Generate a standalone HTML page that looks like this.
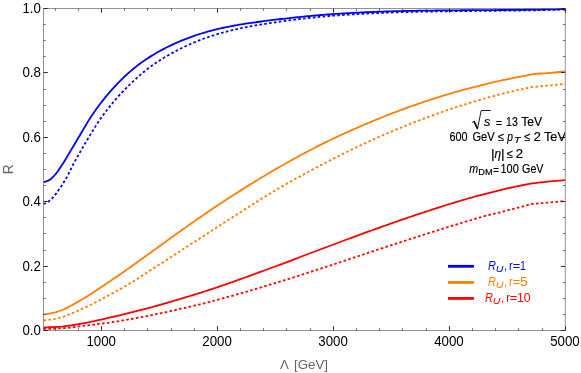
<!DOCTYPE html>
<html><head><meta charset="utf-8"><title>plot</title>
<style>
html,body{margin:0;padding:0;background:#fff;}
body{width:581px;height:373px;overflow:hidden;}
svg{display:block;will-change:transform;}
text{font-family:"Liberation Sans",sans-serif;}
</style></head><body>
<svg width="581" height="373" viewBox="0 0 581 373">
<defs><clipPath id="fr"><rect x="43.5" y="8.5" width="521.40" height="322.00"/></clipPath></defs>
<rect x="0" y="0" width="581" height="373" fill="#ffffff"/>
<g fill="none" stroke-width="1.8" stroke-linejoin="round">
<path d="M43.50,182.12 L45.50,181.68 L47.50,180.97 L49.50,179.91 L51.50,178.46 L53.49,176.48 L55.49,174.25 L57.49,171.72 L59.49,168.84 L61.49,165.83 L63.49,162.70 L65.49,159.43 L67.49,156.09 L69.49,152.73 L71.48,149.39 L73.48,146.05 L75.48,142.69 L77.48,139.32 L79.48,135.94 L81.48,132.54 L83.48,129.13 L85.48,125.74 L87.47,122.40 L89.47,119.15 L91.47,116.06 L93.47,113.18 L95.47,110.34 L97.47,107.54 L99.47,104.82 L101.47,102.17 L103.47,99.60 L105.46,97.11 L107.46,94.70 L109.46,92.38 L111.46,90.14 L113.46,87.96 L115.46,85.83 L117.46,83.73 L119.46,81.66 L121.46,79.64 L123.45,77.67 L125.45,75.77 L127.45,73.92 L129.45,72.13 L131.45,70.39 L133.45,68.71 L135.45,67.09 L137.45,65.51 L139.44,64.00 L141.44,62.53 L143.44,61.11 L145.44,59.74 L147.44,58.41 L149.44,57.12 L151.44,55.87 L153.44,54.66 L155.44,53.49 L157.43,52.34 L159.43,51.23 L161.43,50.15 L163.43,49.09 L165.43,48.06 L167.43,47.05 L169.43,46.07 L171.43,45.11 L173.43,44.18 L175.42,43.27 L177.42,42.38 L179.42,41.52 L181.42,40.68 L183.42,39.87 L185.42,39.07 L187.42,38.30 L189.42,37.55 L191.41,36.82 L193.41,36.12 L195.41,35.43 L197.41,34.76 L199.41,34.12 L201.41,33.49 L203.41,32.88 L205.41,32.29 L207.41,31.72 L209.40,31.17 L211.40,30.63 L213.40,30.11 L215.40,29.61 L217.40,29.12 L219.40,28.65 L221.40,28.19 L223.40,27.75 L225.40,27.32 L227.39,26.91 L229.39,26.51 L231.39,26.12 L233.39,25.75 L235.39,25.38 L237.39,25.03 L239.39,24.69 L241.39,24.36 L243.39,24.03 L245.38,23.72 L247.38,23.42 L249.38,23.12 L251.38,22.83 L253.38,22.55 L255.38,22.28 L257.38,22.01 L259.38,21.75 L261.37,21.49 L263.37,21.23 L265.37,20.98 L267.37,20.72 L269.37,20.47 L271.37,20.22 L273.37,19.97 L275.37,19.72 L277.37,19.48 L279.36,19.24 L281.36,19.01 L283.36,18.78 L285.36,18.55 L287.36,18.33 L289.36,18.11 L291.36,17.89 L293.36,17.68 L295.36,17.46 L297.35,17.25 L299.35,17.04 L301.35,16.84 L303.35,16.64 L305.35,16.44 L307.35,16.24 L309.35,16.05 L311.35,15.86 L313.34,15.68 L315.34,15.50 L317.34,15.32 L319.34,15.15 L321.34,14.99 L323.34,14.82 L325.34,14.67 L327.34,14.52 L329.34,14.37 L331.33,14.23 L333.33,14.09 L335.33,13.95 L337.33,13.82 L339.33,13.69 L341.33,13.56 L343.33,13.44 L345.33,13.32 L347.33,13.20 L349.32,13.08 L351.32,12.97 L353.32,12.86 L355.32,12.76 L357.32,12.65 L359.32,12.55 L361.32,12.45 L363.32,12.36 L365.31,12.26 L367.31,12.17 L369.31,12.09 L371.31,12.00 L373.31,11.92 L375.31,11.84 L377.31,11.76 L379.31,11.69 L381.31,11.62 L383.30,11.55 L385.30,11.48 L387.30,11.42 L389.30,11.36 L391.30,11.30 L393.30,11.25 L395.30,11.20 L397.30,11.15 L399.30,11.10 L401.29,11.06 L403.29,11.01 L405.29,10.97 L407.29,10.93 L409.29,10.89 L411.29,10.86 L413.29,10.82 L415.29,10.79 L417.29,10.75 L419.28,10.72 L421.28,10.69 L423.28,10.66 L425.28,10.63 L427.28,10.61 L429.28,10.58 L431.28,10.56 L433.28,10.53 L435.27,10.51 L437.27,10.49 L439.27,10.46 L441.27,10.44 L443.27,10.42 L445.27,10.40 L447.27,10.39 L449.27,10.37 L451.27,10.35 L453.26,10.33 L455.26,10.32 L457.26,10.30 L459.26,10.29 L461.26,10.27 L463.26,10.26 L465.26,10.24 L467.26,10.23 L469.26,10.22 L471.25,10.20 L473.25,10.19 L475.25,10.18 L477.25,10.16 L479.25,10.15 L481.25,10.14 L483.25,10.12 L485.25,10.11 L487.24,10.10 L489.24,10.08 L491.24,10.07 L493.24,10.06 L495.24,10.04 L497.24,10.03 L499.24,10.01 L501.24,10.00 L503.24,9.98 L505.23,9.96 L507.23,9.95 L509.23,9.93 L511.23,9.91 L513.23,9.89 L515.23,9.87 L517.23,9.85 L519.23,9.83 L521.23,9.81 L523.22,9.79 L525.22,9.77 L527.22,9.74 L529.22,9.72 L531.22,9.69 L533.22,9.66 L535.22,9.63 L537.22,9.60 L539.21,9.57 L541.21,9.54 L543.21,9.51 L545.21,9.47 L547.21,9.44 L549.21,9.40 L551.21,9.36 L553.21,9.32 L555.21,9.28 L557.20,9.23 L559.20,9.19 L561.20,9.14 L563.20,9.09 L565.20,9.04" stroke="#0000ff"/>
<path d="M43.50,203.92 L45.50,203.23 L47.50,202.23 L49.50,200.84 L51.50,199.08 L53.49,196.88 L55.49,194.40 L57.49,191.63 L59.49,188.81 L61.49,185.90 L63.49,182.82 L65.49,179.52 L67.49,175.80 L69.49,171.88 L71.48,167.94 L73.48,163.97 L75.48,160.26 L77.48,156.69 L79.48,153.16 L81.48,149.67 L83.48,146.22 L85.48,142.82 L87.47,139.47 L89.47,136.17 L91.47,132.90 L93.47,129.62 L95.47,126.37 L97.47,123.19 L99.47,120.12 L101.47,117.25 L103.47,114.62 L105.46,112.07 L107.46,109.47 L109.46,106.91 L111.46,104.42 L113.46,101.98 L115.46,99.62 L117.46,97.32 L119.46,95.10 L121.46,92.96 L123.45,90.89 L125.45,88.87 L127.45,86.90 L129.45,84.95 L131.45,83.03 L133.45,81.13 L135.45,79.26 L137.45,77.43 L139.44,75.64 L141.44,73.90 L143.44,72.21 L145.44,70.57 L147.44,68.99 L149.44,67.48 L151.44,66.02 L153.44,64.61 L155.44,63.23 L157.43,61.90 L159.43,60.60 L161.43,59.34 L163.43,58.10 L165.43,56.90 L167.43,55.72 L169.43,54.57 L171.43,53.45 L173.43,52.35 L175.42,51.28 L177.42,50.23 L179.42,49.21 L181.42,48.21 L183.42,47.24 L185.42,46.29 L187.42,45.36 L189.42,44.46 L191.41,43.58 L193.41,42.72 L195.41,41.89 L197.41,41.08 L199.41,40.29 L201.41,39.52 L203.41,38.78 L205.41,38.06 L207.41,37.35 L209.40,36.67 L211.40,36.01 L213.40,35.37 L215.40,34.75 L217.40,34.15 L219.40,33.57 L221.40,33.00 L223.40,32.45 L225.40,31.91 L227.39,31.40 L229.39,30.89 L231.39,30.40 L233.39,29.93 L235.39,29.47 L237.39,29.02 L239.39,28.59 L241.39,28.16 L243.39,27.75 L245.38,27.35 L247.38,26.96 L249.38,26.58 L251.38,26.20 L253.38,25.84 L255.38,25.48 L257.38,25.14 L259.38,24.80 L261.37,24.46 L263.37,24.13 L265.37,23.81 L267.37,23.49 L269.37,23.18 L271.37,22.87 L273.37,22.57 L275.37,22.27 L277.37,21.97 L279.36,21.68 L281.36,21.40 L283.36,21.12 L285.36,20.84 L287.36,20.57 L289.36,20.31 L291.36,20.04 L293.36,19.79 L295.36,19.54 L297.35,19.29 L299.35,19.05 L301.35,18.81 L303.35,18.58 L305.35,18.35 L307.35,18.13 L309.35,17.92 L311.35,17.70 L313.34,17.50 L315.34,17.29 L317.34,17.10 L319.34,16.91 L321.34,16.72 L323.34,16.54 L325.34,16.36 L327.34,16.19 L329.34,16.02 L331.33,15.86 L333.33,15.70 L335.33,15.55 L337.33,15.40 L339.33,15.25 L341.33,15.11 L343.33,14.97 L345.33,14.83 L347.33,14.70 L349.32,14.57 L351.32,14.44 L353.32,14.32 L355.32,14.20 L357.32,14.08 L359.32,13.97 L361.32,13.86 L363.32,13.75 L365.31,13.65 L367.31,13.54 L369.31,13.44 L371.31,13.35 L373.31,13.25 L375.31,13.16 L377.31,13.07 L379.31,12.99 L381.31,12.90 L383.30,12.82 L385.30,12.75 L387.30,12.67 L389.30,12.60 L391.30,12.52 L393.30,12.45 L395.30,12.39 L397.30,12.32 L399.30,12.26 L401.29,12.20 L403.29,12.14 L405.29,12.08 L407.29,12.03 L409.29,11.98 L411.29,11.93 L413.29,11.88 L415.29,11.83 L417.29,11.78 L419.28,11.74 L421.28,11.69 L423.28,11.65 L425.28,11.61 L427.28,11.57 L429.28,11.54 L431.28,11.50 L433.28,11.47 L435.27,11.43 L437.27,11.40 L439.27,11.37 L441.27,11.34 L443.27,11.31 L445.27,11.28 L447.27,11.26 L449.27,11.23 L451.27,11.20 L453.26,11.18 L455.26,11.16 L457.26,11.13 L459.26,11.11 L461.26,11.09 L463.26,11.07 L465.26,11.05 L467.26,11.02 L469.26,11.00 L471.25,10.98 L473.25,10.96 L475.25,10.95 L477.25,10.93 L479.25,10.91 L481.25,10.89 L483.25,10.87 L485.25,10.85 L487.24,10.83 L489.24,10.81 L491.24,10.79 L493.24,10.77 L495.24,10.75 L497.24,10.73 L499.24,10.71 L501.24,10.69 L503.24,10.67 L505.23,10.65 L507.23,10.63 L509.23,10.61 L511.23,10.58 L513.23,10.56 L515.23,10.53 L517.23,10.51 L519.23,10.48 L521.23,10.45 L523.22,10.43 L525.22,10.40 L527.22,10.37 L529.22,10.33 L531.22,10.30 L533.22,10.27 L535.22,10.23 L537.22,10.20 L539.21,10.16 L541.21,10.12 L543.21,10.08 L545.21,10.04 L547.21,10.00 L549.21,9.95 L551.21,9.90 L553.21,9.86 L555.21,9.81 L557.20,9.75 L559.20,9.70 L561.20,9.64 L563.20,9.59 L565.20,9.53" stroke="#0000ff" stroke-dasharray="2.6 2.3"/>
<path d="M43.50,314.55 L45.49,314.22 L47.48,313.88 L49.48,313.51 L51.47,313.16 L53.46,312.76 L55.45,312.25 L57.45,311.65 L59.44,310.99 L61.43,310.26 L63.42,309.48 L65.41,308.58 L67.41,307.59 L69.40,306.56 L71.39,305.50 L73.38,304.41 L75.38,303.28 L77.37,302.13 L79.36,300.98 L81.35,299.83 L83.34,298.67 L85.34,297.47 L87.33,296.23 L89.32,294.96 L91.31,293.68 L93.31,292.38 L95.30,291.07 L97.29,289.76 L99.28,288.43 L101.28,287.10 L103.27,285.77 L105.26,284.43 L107.25,283.09 L109.24,281.74 L111.24,280.39 L113.23,279.03 L115.22,277.67 L117.21,276.30 L119.21,274.93 L121.20,273.55 L123.19,272.17 L125.18,270.78 L127.17,269.38 L129.17,267.98 L131.16,266.57 L133.15,265.15 L135.14,263.74 L137.14,262.31 L139.13,260.88 L141.12,259.45 L143.11,258.02 L145.10,256.58 L147.10,255.14 L149.09,253.70 L151.08,252.26 L153.07,250.81 L155.07,249.37 L157.06,247.93 L159.05,246.48 L161.04,245.04 L163.03,243.60 L165.03,242.15 L167.02,240.72 L169.01,239.28 L171.00,237.84 L173.00,236.41 L174.99,234.98 L176.98,233.55 L178.97,232.13 L180.96,230.71 L182.96,229.29 L184.95,227.87 L186.94,226.47 L188.93,225.06 L190.93,223.66 L192.92,222.27 L194.91,220.88 L196.90,219.49 L198.90,218.11 L200.89,216.74 L202.88,215.37 L204.87,214.00 L206.86,212.64 L208.86,211.29 L210.85,209.94 L212.84,208.60 L214.83,207.26 L216.83,205.93 L218.82,204.60 L220.81,203.28 L222.80,201.97 L224.79,200.66 L226.79,199.35 L228.78,198.05 L230.77,196.76 L232.76,195.47 L234.76,194.19 L236.75,192.91 L238.74,191.64 L240.73,190.38 L242.72,189.12 L244.72,187.86 L246.71,186.62 L248.70,185.37 L250.69,184.14 L252.69,182.91 L254.68,181.68 L256.67,180.47 L258.66,179.25 L260.65,178.05 L262.65,176.85 L264.64,175.66 L266.63,174.47 L268.62,173.29 L270.62,172.11 L272.61,170.95 L274.60,169.78 L276.59,168.63 L278.58,167.48 L280.58,166.34 L282.57,165.20 L284.56,164.07 L286.55,162.95 L288.55,161.84 L290.54,160.73 L292.53,159.62 L294.52,158.53 L296.52,157.44 L298.51,156.36 L300.50,155.28 L302.49,154.21 L304.48,153.15 L306.48,152.09 L308.47,151.04 L310.46,150.00 L312.45,148.97 L314.45,147.94 L316.44,146.92 L318.43,145.90 L320.42,144.90 L322.41,143.90 L324.41,142.90 L326.40,141.92 L328.39,140.95 L330.38,139.99 L332.38,139.03 L334.37,138.08 L336.36,137.15 L338.35,136.22 L340.34,135.29 L342.34,134.38 L344.33,133.47 L346.32,132.56 L348.31,131.67 L350.31,130.77 L352.30,129.89 L354.29,129.01 L356.28,128.13 L358.27,127.26 L360.27,126.39 L362.26,125.53 L364.25,124.68 L366.24,123.83 L368.24,122.99 L370.23,122.15 L372.22,121.32 L374.21,120.50 L376.20,119.68 L378.20,118.87 L380.19,118.06 L382.18,117.26 L384.17,116.47 L386.17,115.69 L388.16,114.91 L390.15,114.13 L392.14,113.36 L394.14,112.60 L396.13,111.84 L398.12,111.09 L400.11,110.35 L402.10,109.61 L404.10,108.88 L406.09,108.15 L408.08,107.43 L410.07,106.72 L412.07,106.01 L414.06,105.30 L416.05,104.60 L418.04,103.91 L420.03,103.23 L422.03,102.54 L424.02,101.87 L426.01,101.20 L428.00,100.54 L430.00,99.88 L431.99,99.23 L433.98,98.59 L435.97,97.95 L437.96,97.32 L439.96,96.69 L441.95,96.07 L443.94,95.46 L445.93,94.86 L447.93,94.26 L449.92,93.66 L451.91,93.08 L453.90,92.49 L455.89,91.92 L457.89,91.35 L459.88,90.79 L461.87,90.23 L463.86,89.68 L465.86,89.14 L467.85,88.60 L469.84,88.07 L471.83,87.55 L473.82,87.03 L475.82,86.52 L477.81,86.01 L479.80,85.51 L481.79,85.02 L483.79,84.53 L485.78,84.05 L487.77,83.57 L489.76,83.11 L491.76,82.64 L493.75,82.19 L495.74,81.74 L497.73,81.29 L499.72,80.86 L501.72,80.42 L503.71,80.00 L505.70,79.58 L507.69,79.17 L509.69,78.76 L511.68,78.36 L513.67,77.96 L515.66,77.57 L517.65,77.18 L519.65,76.81 L521.64,76.43 L523.63,76.07 L525.62,75.70 L527.62,75.25 L529.61,74.76 L531.60,74.30 L534.65,74.02 L537.71,73.76 L540.76,73.52 L543.82,73.28 L546.87,73.04 L549.93,72.79 L552.98,72.53 L556.04,72.27 L559.09,72.02 L562.15,71.77 L565.20,71.52" stroke="#ff7f00"/>
<path d="M43.50,320.23 L45.49,320.09 L47.48,319.94 L49.48,319.72 L51.47,319.44 L53.46,319.10 L55.45,318.71 L57.45,318.29 L59.44,317.81 L61.43,317.28 L63.42,316.66 L65.41,315.96 L67.41,315.19 L69.40,314.40 L71.39,313.57 L73.38,312.71 L75.38,311.83 L77.37,310.92 L79.36,310.02 L81.35,309.14 L83.34,308.24 L85.34,307.33 L87.33,306.39 L89.32,305.42 L91.31,304.44 L93.31,303.44 L95.30,302.44 L97.29,301.43 L99.28,300.40 L101.28,299.37 L103.27,298.32 L105.26,297.26 L107.25,296.19 L109.24,295.11 L111.24,294.03 L113.23,292.93 L115.22,291.83 L117.21,290.72 L119.21,289.60 L121.20,288.47 L123.19,287.33 L125.18,286.18 L127.17,285.02 L129.17,283.84 L131.16,282.64 L133.15,281.41 L135.14,280.16 L137.14,278.89 L139.13,277.60 L141.12,276.31 L143.11,275.02 L145.10,273.73 L147.10,272.43 L149.09,271.15 L151.08,269.88 L153.07,268.61 L155.07,267.33 L157.06,266.06 L159.05,264.78 L161.04,263.50 L163.03,262.21 L165.03,260.93 L167.02,259.64 L169.01,258.35 L171.00,257.06 L173.00,255.77 L174.99,254.48 L176.98,253.19 L178.97,251.90 L180.96,250.61 L182.96,249.32 L184.95,248.02 L186.94,246.73 L188.93,245.44 L190.93,244.15 L192.92,242.85 L194.91,241.56 L196.90,240.27 L198.90,238.98 L200.89,237.68 L202.88,236.39 L204.87,235.10 L206.86,233.81 L208.86,232.52 L210.85,231.23 L212.84,229.94 L214.83,228.66 L216.83,227.37 L218.82,226.08 L220.81,224.80 L222.80,223.51 L224.79,222.23 L226.79,220.95 L228.78,219.67 L230.77,218.39 L232.76,217.12 L234.76,215.84 L236.75,214.57 L238.74,213.30 L240.73,212.03 L242.72,210.76 L244.72,209.50 L246.71,208.23 L248.70,206.96 L250.69,205.69 L252.69,204.42 L254.68,203.15 L256.67,201.88 L258.66,200.62 L260.65,199.35 L262.65,198.10 L264.64,196.85 L266.63,195.62 L268.62,194.39 L270.62,193.17 L272.61,191.97 L274.60,190.78 L276.59,189.61 L278.58,188.44 L280.58,187.28 L282.57,186.13 L284.56,184.99 L286.55,183.85 L288.55,182.73 L290.54,181.60 L292.53,180.49 L294.52,179.38 L296.52,178.28 L298.51,177.18 L300.50,176.09 L302.49,175.01 L304.48,173.93 L306.48,172.85 L308.47,171.78 L310.46,170.71 L312.45,169.64 L314.45,168.58 L316.44,167.52 L318.43,166.46 L320.42,165.41 L322.41,164.37 L324.41,163.32 L326.40,162.29 L328.39,161.25 L330.38,160.23 L332.38,159.21 L334.37,158.19 L336.36,157.18 L338.35,156.17 L340.34,155.17 L342.34,154.18 L344.33,153.19 L346.32,152.21 L348.31,151.23 L350.31,150.26 L352.30,149.29 L354.29,148.33 L356.28,147.38 L358.27,146.43 L360.27,145.49 L362.26,144.56 L364.25,143.63 L366.24,142.71 L368.24,141.79 L370.23,140.88 L372.22,139.98 L374.21,139.08 L376.20,138.19 L378.20,137.30 L380.19,136.42 L382.18,135.55 L384.17,134.68 L386.17,133.82 L388.16,132.97 L390.15,132.12 L392.14,131.28 L394.14,130.44 L396.13,129.61 L398.12,128.78 L400.11,127.96 L402.10,127.14 L404.10,126.33 L406.09,125.53 L408.08,124.73 L410.07,123.94 L412.07,123.15 L414.06,122.37 L416.05,121.60 L418.04,120.83 L420.03,120.06 L422.03,119.30 L424.02,118.55 L426.01,117.80 L428.00,117.05 L430.00,116.32 L431.99,115.58 L433.98,114.86 L435.97,114.14 L437.96,113.42 L439.96,112.71 L441.95,112.01 L443.94,111.32 L445.93,110.62 L447.93,109.94 L449.92,109.26 L451.91,108.59 L453.90,107.93 L455.89,107.27 L457.89,106.62 L459.88,105.97 L461.87,105.33 L463.86,104.70 L465.86,104.07 L467.85,103.45 L469.84,102.84 L471.83,102.24 L473.82,101.64 L475.82,101.04 L477.81,100.46 L479.80,99.88 L481.79,99.31 L483.79,98.75 L485.78,98.19 L487.77,97.63 L489.76,97.09 L491.76,96.55 L493.75,96.01 L495.74,95.48 L497.73,94.96 L499.72,94.45 L501.72,93.94 L503.71,93.44 L505.70,92.94 L507.69,92.46 L509.69,91.98 L511.68,91.51 L513.67,91.04 L515.66,90.59 L517.65,90.14 L519.65,89.70 L521.64,89.26 L523.63,88.84 L525.62,88.42 L527.62,88.00 L529.61,87.60 L531.60,87.20 L534.65,86.88 L537.71,86.56 L540.76,86.25 L543.82,85.93 L546.87,85.61 L549.93,85.31 L552.98,85.04 L556.04,84.77 L559.09,84.51 L562.15,84.23 L565.20,83.96" stroke="#ff7f00" stroke-dasharray="2.6 2.3"/>
<path d="M43.50,327.42 L45.50,327.36 L47.49,327.31 L49.49,327.25 L51.48,327.17 L53.48,327.08 L55.47,326.98 L57.47,326.89 L59.46,326.78 L61.46,326.64 L63.45,326.47 L65.45,326.23 L67.44,325.96 L69.44,325.66 L71.43,325.34 L73.43,325.01 L75.42,324.67 L77.42,324.34 L79.41,324.00 L81.41,323.65 L83.40,323.30 L85.40,322.93 L87.39,322.55 L89.39,322.15 L91.38,321.74 L93.38,321.31 L95.37,320.87 L97.37,320.43 L99.36,319.97 L101.36,319.52 L103.35,319.06 L105.35,318.61 L107.34,318.15 L109.34,317.69 L111.33,317.22 L113.33,316.75 L115.32,316.27 L117.32,315.80 L119.31,315.34 L121.31,314.88 L123.30,314.41 L125.30,313.94 L127.29,313.46 L129.29,312.97 L131.28,312.48 L133.28,311.99 L135.27,311.49 L137.27,310.98 L139.26,310.47 L141.26,309.95 L143.26,309.43 L145.25,308.90 L147.25,308.37 L149.24,307.84 L151.24,307.29 L153.23,306.75 L155.23,306.19 L157.22,305.64 L159.22,305.08 L161.21,304.51 L163.21,303.94 L165.20,303.37 L167.20,302.79 L169.19,302.21 L171.19,301.63 L173.18,301.04 L175.18,300.45 L177.17,299.86 L179.17,299.27 L181.16,298.68 L183.16,298.08 L185.15,297.48 L187.15,296.87 L189.14,296.26 L191.14,295.65 L193.13,295.04 L195.13,294.42 L197.12,293.79 L199.12,293.17 L201.11,292.53 L203.11,291.90 L205.10,291.26 L207.10,290.61 L209.09,289.96 L211.09,289.31 L213.08,288.64 L215.08,287.98 L217.07,287.31 L219.07,286.63 L221.06,285.95 L223.06,285.26 L225.05,284.57 L227.05,283.87 L229.04,283.18 L231.04,282.48 L233.03,281.78 L235.03,281.07 L237.02,280.36 L239.02,279.65 L241.02,278.94 L243.01,278.23 L245.01,277.51 L247.00,276.79 L249.00,276.07 L250.99,275.35 L252.99,274.62 L254.98,273.89 L256.98,273.16 L258.97,272.43 L260.97,271.70 L262.96,270.97 L264.96,270.23 L266.95,269.49 L268.95,268.75 L270.94,268.01 L272.94,267.27 L274.93,266.53 L276.93,265.78 L278.92,265.04 L280.92,264.29 L282.91,263.54 L284.91,262.80 L286.90,262.05 L288.90,261.30 L290.89,260.54 L292.89,259.79 L294.88,259.04 L296.88,258.29 L298.87,257.53 L300.87,256.78 L302.86,256.02 L304.86,255.27 L306.85,254.52 L308.85,253.76 L310.84,253.00 L312.84,252.25 L314.83,251.49 L316.83,250.74 L318.82,249.99 L320.82,249.23 L322.81,248.48 L324.81,247.73 L326.80,246.98 L328.80,246.23 L330.79,245.48 L332.79,244.73 L334.78,243.98 L336.78,243.24 L338.78,242.49 L340.77,241.75 L342.77,241.00 L344.76,240.26 L346.76,239.52 L348.75,238.78 L350.75,238.04 L352.74,237.31 L354.74,236.57 L356.73,235.84 L358.73,235.10 L360.72,234.37 L362.72,233.64 L364.71,232.92 L366.71,232.19 L368.70,231.47 L370.70,230.74 L372.69,230.02 L374.69,229.30 L376.68,228.59 L378.68,227.87 L380.67,227.16 L382.67,226.45 L384.66,225.74 L386.66,225.03 L388.65,224.33 L390.65,223.63 L392.64,222.93 L394.64,222.23 L396.63,221.54 L398.63,220.84 L400.62,220.15 L402.62,219.47 L404.61,218.78 L406.61,218.10 L408.60,217.42 L410.60,216.74 L412.59,216.07 L414.59,215.39 L416.58,214.72 L418.58,214.06 L420.57,213.39 L422.57,212.73 L424.56,212.07 L426.56,211.41 L428.55,210.75 L430.55,210.10 L432.54,209.45 L434.54,208.80 L436.54,208.16 L438.53,207.52 L440.53,206.89 L442.52,206.25 L444.52,205.63 L446.51,205.00 L448.51,204.38 L450.50,203.76 L452.50,203.15 L454.49,202.55 L456.49,201.94 L458.48,201.35 L460.48,200.75 L462.47,200.16 L464.47,199.58 L466.46,199.00 L468.46,198.43 L470.45,197.87 L472.45,197.30 L474.44,196.75 L476.44,196.20 L478.43,195.66 L480.43,195.12 L482.42,194.59 L484.42,194.06 L486.41,193.54 L488.41,193.02 L490.40,192.51 L492.40,192.01 L494.39,191.51 L496.39,191.02 L498.38,190.53 L500.38,190.05 L502.37,189.58 L504.37,189.11 L506.36,188.65 L508.36,188.20 L510.35,187.75 L512.35,187.32 L514.34,186.89 L516.34,186.47 L518.33,186.05 L520.33,185.65 L522.32,185.25 L524.32,184.86 L526.31,184.48 L528.31,184.11 L530.30,183.74 L532.30,183.38 L535.29,183.04 L538.28,182.70 L541.27,182.36 L544.26,182.02 L547.25,181.68 L550.25,181.38 L553.24,181.12 L556.23,180.87 L559.22,180.61 L562.21,180.36 L565.20,180.10" stroke="#ff0000"/>
<path d="M43.50,328.89 L45.50,328.87 L47.49,328.85 L49.49,328.81 L51.48,328.76 L53.48,328.69 L55.47,328.61 L57.47,328.51 L59.46,328.40 L61.46,328.28 L63.45,328.15 L65.45,328.00 L67.44,327.83 L69.44,327.63 L71.43,327.41 L73.43,327.16 L75.42,326.90 L77.42,326.64 L79.41,326.37 L81.41,326.10 L83.40,325.84 L85.40,325.59 L87.39,325.37 L89.39,325.14 L91.38,324.91 L93.38,324.67 L95.37,324.43 L97.37,324.18 L99.36,323.92 L101.36,323.66 L103.35,323.39 L105.35,323.11 L107.34,322.83 L109.34,322.54 L111.33,322.25 L113.33,321.95 L115.32,321.65 L117.32,321.34 L119.31,321.02 L121.31,320.70 L123.30,320.37 L125.30,320.04 L127.29,319.70 L129.29,319.35 L131.28,319.00 L133.28,318.65 L135.27,318.29 L137.27,317.92 L139.26,317.55 L141.26,317.17 L143.26,316.79 L145.25,316.41 L147.25,316.01 L149.24,315.62 L151.24,315.22 L153.23,314.81 L155.23,314.40 L157.22,313.98 L159.22,313.56 L161.21,313.14 L163.21,312.71 L165.20,312.27 L167.20,311.83 L169.19,311.39 L171.19,310.95 L173.18,310.51 L175.18,310.07 L177.17,309.62 L179.17,309.17 L181.16,308.72 L183.16,308.27 L185.15,307.81 L187.15,307.35 L189.14,306.88 L191.14,306.42 L193.13,305.95 L195.13,305.47 L197.12,304.99 L199.12,304.51 L201.11,304.02 L203.11,303.53 L205.10,303.04 L207.10,302.54 L209.09,302.03 L211.09,301.52 L213.08,301.00 L215.08,300.48 L217.07,299.95 L219.07,299.41 L221.06,298.87 L223.06,298.33 L225.05,297.78 L227.05,297.22 L229.04,296.67 L231.04,296.11 L233.03,295.55 L235.03,294.98 L237.02,294.41 L239.02,293.84 L241.02,293.27 L243.01,292.69 L245.01,292.11 L247.00,291.53 L249.00,290.95 L250.99,290.36 L252.99,289.77 L254.98,289.18 L256.98,288.58 L258.97,287.99 L260.97,287.39 L262.96,286.79 L264.96,286.18 L266.95,285.58 L268.95,284.97 L270.94,284.36 L272.94,283.75 L274.93,283.14 L276.93,282.52 L278.92,281.90 L280.92,281.29 L282.91,280.66 L284.91,280.04 L286.90,279.42 L288.90,278.79 L290.89,278.17 L292.89,277.54 L294.88,276.91 L296.88,276.28 L298.87,275.64 L300.87,275.01 L302.86,274.37 L304.86,273.74 L306.85,273.10 L308.85,272.46 L310.84,271.82 L312.84,271.18 L314.83,270.53 L316.83,269.89 L318.82,269.24 L320.82,268.59 L322.81,267.93 L324.81,267.28 L326.80,266.62 L328.80,265.97 L330.79,265.31 L332.79,264.65 L334.78,263.99 L336.78,263.32 L338.78,262.66 L340.77,261.99 L342.77,261.33 L344.76,260.66 L346.76,260.00 L348.75,259.33 L350.75,258.66 L352.74,257.99 L354.74,257.33 L356.73,256.66 L358.73,255.99 L360.72,255.32 L362.72,254.66 L364.71,253.99 L366.71,253.32 L368.70,252.66 L370.70,251.99 L372.69,251.33 L374.69,250.66 L376.68,250.00 L378.68,249.34 L380.67,248.68 L382.67,248.03 L384.66,247.37 L386.66,246.71 L388.65,246.06 L390.65,245.41 L392.64,244.76 L394.64,244.11 L396.63,243.46 L398.63,242.81 L400.62,242.17 L402.62,241.52 L404.61,240.87 L406.61,240.23 L408.60,239.58 L410.60,238.94 L412.59,238.30 L414.59,237.65 L416.58,237.01 L418.58,236.37 L420.57,235.73 L422.57,235.10 L424.56,234.46 L426.56,233.83 L428.55,233.19 L430.55,232.56 L432.54,231.93 L434.54,231.30 L436.54,230.67 L438.53,230.04 L440.53,229.42 L442.52,228.79 L444.52,228.17 L446.51,227.55 L448.51,226.93 L450.50,226.31 L452.50,225.69 L454.49,225.08 L456.49,224.47 L458.48,223.86 L460.48,223.25 L462.47,222.64 L464.47,222.04 L466.46,221.43 L468.46,220.83 L470.45,220.24 L472.45,219.64 L474.44,219.04 L476.44,218.45 L478.43,217.86 L480.43,217.28 L482.42,216.71 L484.42,216.18 L486.41,215.66 L488.41,215.17 L490.40,214.68 L492.40,214.21 L494.39,213.74 L496.39,213.26 L498.38,212.78 L500.38,212.28 L502.37,211.76 L504.37,211.23 L506.36,210.70 L508.36,210.17 L510.35,209.64 L512.35,209.12 L514.34,208.59 L516.34,208.07 L518.33,207.55 L520.33,207.03 L522.32,206.51 L524.32,205.99 L526.31,205.48 L528.31,204.96 L530.30,204.44 L532.30,203.92 L535.29,203.72 L538.28,203.47 L541.27,203.22 L544.26,202.95 L547.25,202.66 L550.25,202.36 L553.24,202.08 L556.23,201.81 L559.22,201.56 L562.21,201.32 L565.20,201.10" stroke="#ff0000" stroke-dasharray="2.6 2.3"/>
</g>
<g fill="none" stroke="#666666" stroke-width="0.7">
<rect x="43.5" y="8.5" width="521.70" height="322.00"/>
<path d="M55.50,330.5 v-2.3 M55.50,8.5 v2.3 M78.50,330.5 v-2.3 M78.50,8.5 v2.3 M124.50,330.5 v-2.3 M124.50,8.5 v2.3 M147.50,330.5 v-2.3 M147.50,8.5 v2.3 M171.50,330.5 v-2.3 M171.50,8.5 v2.3 M194.50,330.5 v-2.3 M194.50,8.5 v2.3 M240.50,330.5 v-2.3 M240.50,8.5 v2.3 M263.50,330.5 v-2.3 M263.50,8.5 v2.3 M286.50,330.5 v-2.3 M286.50,8.5 v2.3 M310.50,330.5 v-2.3 M310.50,8.5 v2.3 M356.50,330.5 v-2.3 M356.50,8.5 v2.3 M379.50,330.5 v-2.3 M379.50,8.5 v2.3 M402.50,330.5 v-2.3 M402.50,8.5 v2.3 M426.50,330.5 v-2.3 M426.50,8.5 v2.3 M472.50,330.5 v-2.3 M472.50,8.5 v2.3 M495.50,330.5 v-2.3 M495.50,8.5 v2.3 M518.50,330.5 v-2.3 M518.50,8.5 v2.3 M542.50,330.5 v-2.3 M542.50,8.5 v2.3 M43.5,314.50 h2.3 M565.2,314.50 h-2.3 M43.5,298.50 h2.3 M565.2,298.50 h-2.3 M43.5,282.50 h2.3 M565.2,282.50 h-2.3 M43.5,250.50 h2.3 M565.2,250.50 h-2.3 M43.5,233.50 h2.3 M565.2,233.50 h-2.3 M43.5,217.50 h2.3 M565.2,217.50 h-2.3 M43.5,185.50 h2.3 M565.2,185.50 h-2.3 M43.5,169.50 h2.3 M565.2,169.50 h-2.3 M43.5,153.50 h2.3 M565.2,153.50 h-2.3 M43.5,121.50 h2.3 M565.2,121.50 h-2.3 M43.5,105.50 h2.3 M565.2,105.50 h-2.3 M43.5,89.50 h2.3 M565.2,89.50 h-2.3 M43.5,56.50 h2.3 M565.2,56.50 h-2.3 M43.5,40.50 h2.3 M565.2,40.50 h-2.3 M43.5,24.50 h2.3 M565.2,24.50 h-2.3" stroke="#333333"/>
<path d="M101.50,330.5 v-4.3 M101.50,8.5 v4.3 M217.50,330.5 v-4.3 M217.50,8.5 v4.3 M333.50,330.5 v-4.3 M333.50,8.5 v4.3 M449.50,330.5 v-4.3 M449.50,8.5 v4.3 M565.50,330.5 v-4.3 M565.50,8.5 v4.3 M43.5,330.50 h4.3 M565.2,330.50 h-4.3 M43.5,266.50 h4.3 M565.2,266.50 h-4.3 M43.5,201.50 h4.3 M565.2,201.50 h-4.3 M43.5,137.50 h4.3 M565.2,137.50 h-4.3 M43.5,72.50 h4.3 M565.2,72.50 h-4.3 M43.5,8.50 h4.3 M565.2,8.50 h-4.3" stroke="#222222" stroke-width="0.95"/>
</g>
<g font-size="13.3px" fill="#000000">
<text transform="translate(101.17,345.5) scale(1.0,1.06)" text-anchor="middle">1000</text><text transform="translate(217.10,345.5) scale(1.0,1.06)" text-anchor="middle">2000</text><text transform="translate(333.03,345.5) scale(1.0,1.06)" text-anchor="middle">3000</text><text transform="translate(448.97,345.5) scale(1.0,1.06)" text-anchor="middle">4000</text><text transform="translate(564.90,345.5) scale(1.0,1.06)" text-anchor="middle">5000</text>
<text transform="translate(40.9,334.90) scale(1.0,1.06)" text-anchor="end">0.0</text><text transform="translate(40.9,270.50) scale(1.0,1.06)" text-anchor="end">0.2</text><text transform="translate(40.9,206.10) scale(1.0,1.06)" text-anchor="end">0.4</text><text transform="translate(40.9,141.70) scale(1.0,1.06)" text-anchor="end">0.6</text><text transform="translate(40.9,77.30) scale(1.0,1.06)" text-anchor="end">0.8</text><text transform="translate(40.9,12.90) scale(1.0,1.06)" text-anchor="end">1.0</text>
</g>
<g font-size="13.3px" fill="#666666">
<text transform="translate(280.1,368.5) scale(1.0,1.03)">Λ</text>
<text transform="translate(294.0,368.5) scale(1.0,1.03)">[GeV]</text>
<text transform="translate(12.5,169.4) rotate(-90) scale(1.02,1.07)" text-anchor="middle">R</text>
</g>
<g font-size="12px" fill="#000000" stroke="#000000" stroke-width="0.18" clip-path="url(#fr)">
<path d="M471.9,122.6 L474.2,121.2" fill="none" stroke="#000" stroke-width="0.8"/>
<path d="M474.0,121.2 L477.3,128.6" fill="none" stroke="#000" stroke-width="1.6"/>
<path d="M477.4,129.4 L481.2,110.5 H490.8" fill="none" stroke="#000" stroke-width="0.9"/>
<text transform="translate(484.00,125.9) scale(1.053,1)" font-size="12px" font-style="italic">s</text>
<text transform="translate(495.71,126.7) scale(0.917,1)" font-size="12px">=</text>
<text transform="translate(506.08,125.9) scale(0.879,1)" font-size="12px">13</text>
<text transform="translate(521.14,125.9) scale(1.013,1)" font-size="12px">TeV</text>
<text transform="translate(449.50,140.6) scale(0.901,1)" font-size="12px">600</text>
<text transform="translate(472.49,140.6) scale(0.922,1)" font-size="12px">GeV</text>
<text transform="translate(497.95,140.6) scale(0.938,1)" font-size="12px">≤</text>
<text transform="translate(507.30,140.6) scale(0.850,1)" font-size="12px" font-style="italic">p</text>
<text transform="translate(513.98,142.7) scale(1.144,1)" font-size="9.3px" font-style="italic">T</text>
<text transform="translate(524.15,140.6) scale(0.938,1)" font-size="12px">≤</text>
<text transform="translate(533.65,140.6) scale(1.061,1)" font-size="12px">2</text>
<text transform="translate(544.03,140.6) scale(1.056,1)" font-size="12px">TeV</text>
<text transform="translate(490.88,157.6) scale(1.150,1)" font-size="12px">|</text>
<text transform="translate(494.41,157.6) scale(0.983,1)" font-size="12px" font-style="italic">η</text>
<text transform="translate(500.98,157.6) scale(1.150,1)" font-size="12px">|</text>
<text transform="translate(506.75,157.6) scale(0.938,1)" font-size="12px">≤</text>
<text transform="translate(515.84,157.6) scale(1.097,1)" font-size="12px">2</text>
<text transform="translate(469.23,173.2) scale(0.891,1)" font-size="12px" font-style="italic">m</text>
<text transform="translate(478.22,175.29999999999998) scale(1.010,1)" font-size="9.2px">DM</text>
<text transform="translate(492.93,174.0) scale(0.854,1)" font-size="12px">=</text>
<text transform="translate(500.55,173.2) scale(0.909,1)" font-size="12px">100</text>
<text transform="translate(522.11,173.2) scale(0.888,1)" font-size="12px">GeV</text>
</g>
<g stroke-width="2.8" fill="none">
<path d="M448.0,266.3 H473.9" stroke="#0000ff"/>
<path d="M448.0,282.45 H473.9" stroke="#ff7f00"/>
<path d="M448.0,298.4 H473.9" stroke="#ff0000"/>
</g>
<g font-size="12px">
<text transform="translate(487.97,269.8) scale(0.914,1)" font-size="12px" font-style="italic" fill="#0000ff">R</text>
<text transform="translate(495.67,271.90000000000003) scale(1.133,1)" font-size="9.4px" font-style="italic" fill="#0000ff">U</text>
<text transform="translate(503.94,269.8) scale(0.850,1)" font-size="12px" fill="#0000ff">,</text>
<text transform="translate(509.12,269.8) scale(0.923,1)" font-size="12px" fill="#0000ff">r</text>
<text transform="translate(512.76,270.2) scale(1.072,1)" font-size="12px" fill="#0000ff">=</text>
<text transform="translate(519.99,269.8) scale(0.872,1)" font-size="12px" fill="#0000ff">1</text>
<text transform="translate(487.97,285.8) scale(0.914,1)" font-size="12px" font-style="italic" fill="#ff7f00">R</text>
<text transform="translate(495.67,287.90000000000003) scale(1.133,1)" font-size="9.4px" font-style="italic" fill="#ff7f00">U</text>
<text transform="translate(503.94,285.8) scale(0.850,1)" font-size="12px" fill="#ff7f00">,</text>
<text transform="translate(509.12,285.8) scale(0.923,1)" font-size="12px" fill="#ff7f00">r</text>
<text transform="translate(512.76,286.2) scale(1.072,1)" font-size="12px" fill="#ff7f00">=</text>
<text transform="translate(519.98,285.8) scale(1.150,1)" font-size="12px" fill="#ff7f00">5</text>
<text transform="translate(485.07,301.9) scale(0.914,1)" font-size="12px" font-style="italic" fill="#ff0000">R</text>
<text transform="translate(492.77,304.0) scale(1.133,1)" font-size="9.4px" font-style="italic" fill="#ff0000">U</text>
<text transform="translate(501.05,301.9) scale(0.850,1)" font-size="12px" fill="#ff0000">,</text>
<text transform="translate(506.22,301.9) scale(0.923,1)" font-size="12px" fill="#ff0000">r</text>
<text transform="translate(509.86,302.29999999999995) scale(1.072,1)" font-size="12px" fill="#ff0000">=</text>
<text transform="translate(516.92,301.9) scale(1.030,1)" font-size="12px" fill="#ff0000">10</text>
</g>
</svg>
</body></html>
